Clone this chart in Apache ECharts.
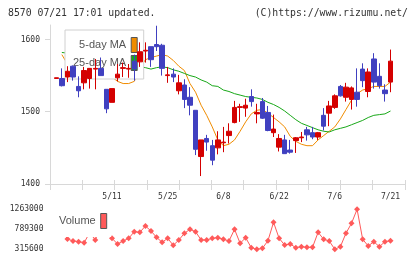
<!DOCTYPE html>
<html>
<head>
<meta charset="utf-8">
<script src="https://cdn.jsdelivr.net/npm/echarts@6/dist/echarts.min.js"></script>
<style>
  html, body { margin: 0; padding: 0; background: #fff; }
  #chart { width: 420px; height: 259px; }
</style>
</head>
<body>
<div id="chart"></div>
<script>
// trading days 2023/4/24 - 7/21
var dates = ['4/24','4/25','4/26','4/27','4/28','5/1','5/2','5/8','5/9','5/10',
  '5/11','5/12','5/15','5/16','5/17','5/18','5/19','5/22','5/23','5/24',
  '5/25','5/26','5/29','5/30','5/31','6/1','6/2','6/5','6/6','6/7',
  '6/8','6/9','6/12','6/13','6/14','6/15','6/16','6/19','6/20','6/21',
  '6/22','6/23','6/26','6/27','6/28','6/29','6/30','7/3','7/4','7/5',
  '7/6','7/7','7/10','7/11','7/12','7/13','7/14','7/18','7/19','7/20',
  '7/21']

// [open, close, low, high]
var candles = [
  [1546,1547,1546,1547],[1546,1536,1535,1560],[1548,1556,1541,1563],[1563,1548,1543,1564],[1535,1529,1520,1549],
  [1540,1557,1531,1562],[1546,1560,1532,1560],[1559,1560,1531,1573],[1560,1550,1550,1575],[1531,1504,1498,1531],
  [1513,1532,1513,1532],[1547,1552,1542,1566],[1560,1561,1548,1568],[1559,1560,1547,1566],[1570,1559,1543,1579],
  [1569,1583,1562,1596],[1584,1585,1568,1596],[1590,1572,1562,1590],[1593,1590,1584,1619],[1592,1560,1550,1594],
  [1550,1551,1540,1562],[1552,1548,1541,1560],[1529,1540,1524,1551],[1537,1517,1505,1545],[1520,1509,1495,1534],
  [1502,1448,1440,1502],[1438,1461,1411,1461],[1463,1458,1446,1468],[1453,1433,1426,1461],[1450,1461,1441,1473],
  [1457,1458,1444,1479],[1467,1473,1456,1484],[1485,1506,1484,1515],[1506,1507,1486,1511],[1505,1509,1493,1518],
  [1521,1514,1507,1531],[1497,1499,1484,1511],[1514,1491,1490,1519],[1499,1474,1473,1508],[1471,1476,1465,1496],
  [1451,1463,1445,1469],[1461,1442,1442,1468],[1447,1444,1442,1461],[1460,1464,1443,1465],[1464,1465,1458,1472],
  [1475,1468,1460,1479],[1471,1465,1462,1479],[1465,1471,1461,1472],[1495,1480,1474,1505],[1498,1508,1480,1515],
  [1506,1522,1504,1524],[1535,1522,1521,1537],[1520,1534,1514,1540],[1517,1533,1503,1535],[1527,1517,1507,1560],
  [1559,1543,1534,1567],[1528,1555,1520,1560],[1573,1541,1532,1581],[1549,1536,1532,1567],[1530,1525,1514,1538],
  [1541,1570,1527,1586]
]

// moving averages (null = hidden behind legend)
var ma5 = [null,1579,1566,null,null,null,null,null,null,null,
  1548,1542,1539,1539,1542,1560,1572,1575,1577,1579,
  1577,1571,1563,1557,1539,1527,1509,1495,1479,1461,
  1453,1455,1461,1473,1486,1497,1502,1503,1498,1492,
  1486,1479,1466,1459,1455,1453,1453,1461,1467,1473,
  1479,1490,1503,1516,1525,1530,1532,1535,1535,1535,
  1541]
var ma25 = [null,1582,1581,null,null,null,null,null,null,null,
  null,null,null,null,null,1562,1561,1559,1561,1562,
  1561,1558,1556,1553,1550,1548,1544,1541,1536,1535,
  1530,1528,1525,1523,1521,1520,1519,1517,1513,1510,
  1506,1501,1495,1489,1484,1481,1478,1475,1473,1472,
  1475,1477,1479,1482,1485,1488,1492,1495,1496,1497,
  1501]

var volume = [null,772000,559600,512200,495600,471900,711000,535900,867000,820000,
  576100,441100,512200,576100,732500,718200,867500,749000,599800,481400,
  576100,410300,535900,694600,789300,732500,535900,535900,576100,590300,
  552500,512200,789300,457700,590300,353500,315600,339300,519300,955100,
  576100,417400,441100,353500,377200,363000,363000,718200,552500,512200,
  315600,377200,694600,931400,1263000,552500,393800,495600,377200,495600,
  519300]

var priceTicks = [1400, 1500, 1600]
var volumeTicks = [315600, 789300, 1263000]

var chart = echarts.init(document.getElementById('chart'))
var mono = 'DejaVu Sans Mono'
var axisGray = '#d8d8d8'
var plain = function (v) { return String(v) }

chart.setOption({
  animation: false,
  backgroundColor: '#fff',
  title: [
    { text: '8570 07/21 17:01 updated.', left: 8, top: 8, padding: 0,
      textStyle: { fontFamily: mono, fontSize: 9.8, fontWeight: 'normal', color: '#333' } },
    { text: '(C)https://www.rizumu.net/', right: 12, top: 8, padding: 0,
      textStyle: { fontFamily: mono, fontSize: 9.8, fontWeight: 'normal', color: '#333' } }
  ],
  legend: [
    {
      data: ['5-day MA', '25-day MA'],
      orient: 'vertical', align: 'right',
      left: 65, top: 30, padding: [7, 6, 8, 8],
      itemWidth: 6, itemHeight: 15, itemGap: 2,
      icon: 'rect',
      backgroundColor: '#fff', borderColor: '#d0d0d0', borderWidth: 1,
      itemStyle: { borderColor: '#555', borderWidth: 1 },
      textStyle: { fontFamily: 'Liberation Sans', fontSize: 11, color: '#555' },
      z: 4
    },
    {
      data: ['Volume'],
      orient: 'vertical', align: 'right',
      left: 55, top: 209, padding: [4, 4, 8, 4],
      itemWidth: 6, itemHeight: 15,
      icon: 'rect',
      backgroundColor: '#fff',
      itemStyle: { borderColor: '#555', borderWidth: 1 },
      textStyle: { fontFamily: 'Liberation Sans', fontSize: 11, color: '#555' },
      z: 4
    }
  ],
  grid: [
    { left: 50, top: 25, width: 355, height: 159, outerBoundsMode: 'none' },
    { left: 53.5, top: 25, width: 339.8, height: 159, outerBoundsMode: 'none' },
    { left: 53.5, top: 203, width: 339.8, height: 53, outerBoundsMode: 'none' }
  ],
  xAxis: [
    { gridIndex: 0, type: 'value', min: 0, max: 11, interval: 1,
      axisLine: { lineStyle: { color: axisGray } },
      axisTick: { length: 6, lineStyle: { color: axisGray } },
      axisLabel: { show: false }, splitLine: { show: false } },
    { gridIndex: 0, type: 'value', min: 0, max: 11, interval: 1, position: 'bottom',
      axisLine: { show: false },
      axisTick: { inside: true, length: 4, lineStyle: { color: axisGray } },
      axisLabel: { show: false }, splitLine: { show: false } },
    { gridIndex: 1, type: 'category', data: dates, boundaryGap: true,
      axisLine: { show: false }, axisTick: { show: false },
      axisLabel: {
        interval: function (i) { return i > 0 && i % 10 === 0 },
        margin: 9, fontFamily: mono, fontSize: 8, color: '#333'
      } },
    { gridIndex: 2, type: 'category', data: dates, boundaryGap: true, show: false }
  ],
  yAxis: [
    { gridIndex: 0, type: 'value', min: 1400, max: 1620,
      axisLine: { show: true, lineStyle: { color: axisGray } },
      axisTick: { show: true, length: 5, customValues: priceTicks, lineStyle: { color: axisGray } },
      axisLabel: { customValues: priceTicks, formatter: plain, margin: 10, fontFamily: mono, fontSize: 8, color: '#333' },
      splitLine: { show: false } },
    { gridIndex: 0, type: 'value', min: 1400, max: 1620,
      axisLine: { show: false },
      axisTick: { show: true, inside: true, length: 3, customValues: priceTicks, lineStyle: { color: axisGray } },
      axisLabel: { show: false }, splitLine: { show: false } },
    { gridIndex: 1, type: 'value', min: 1400, max: 1620, show: false },
    { gridIndex: 2, type: 'value', min: 157000, max: 1412000,
      axisLine: { show: false }, axisTick: { show: false },
      axisLabel: { customValues: volumeTicks, formatter: plain, margin: 10, fontFamily: mono, fontSize: 8, color: '#333' },
      splitLine: { show: false } }
  ],
  series: [
    {
      name: 'candle', type: 'candlestick', xAxisIndex: 2, yAxisIndex: 2,
      data: candles, barWidth: 5, z: 5,
      itemStyle: {
        color: '#d40000', color0: '#4040c0',
        borderColor: '#d40000', borderColor0: '#4040c0', borderWidth: 1
      }
    },
    {
      name: '5-day MA', type: 'line', xAxisIndex: 2, yAxisIndex: 2,
      data: ma5, symbol: 'none', z: 2, color: '#f08c00',
      lineStyle: { width: 1, color: '#f08c00' }
    },
    {
      name: '25-day MA', type: 'line', xAxisIndex: 2, yAxisIndex: 2,
      data: ma25, symbol: 'none', z: 2, color: '#18a818',
      lineStyle: { width: 1, color: '#18a818' }
    },
    {
      name: 'Volume', type: 'line', xAxisIndex: 3, yAxisIndex: 3,
      data: volume, symbol: 'diamond', symbolSize: 6, showAllSymbol: true,
      z: 2, color: '#ff5a5a',
      itemStyle: { color: '#ff5a5a' },
      lineStyle: { width: 1, color: '#ff5a5a' }
    }
  ]
})
</script>
</body>
</html>
